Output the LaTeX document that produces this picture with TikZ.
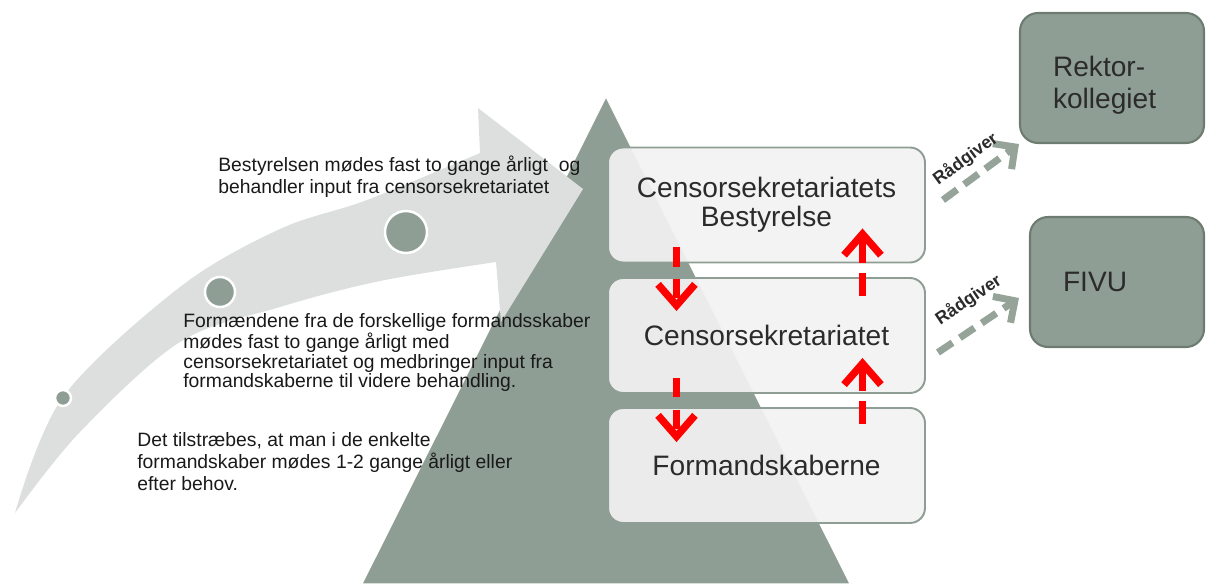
\documentclass[tikz,border=0pt]{standalone}
\usepackage{fontspec}
\setmainfont{Liberation Sans}
\usepackage{xcolor}
\usepackage{tikz}
\usetikzlibrary{arrows.meta,calc}

\definecolor{sage}{HTML}{8F9E94}
\definecolor{sagedark}{HTML}{6E7B71}
\definecolor{mist}{HTML}{DCDFDE}
\definecolor{paleface}{HTML}{F2F2F2}
\definecolor{inktext}{HTML}{2B2B2B}

\begin{document}
\begin{tikzpicture}[x=0.02cm,y=-0.02cm,
  stage/.style={draw=sage,line width=1.1pt,fill=paleface,fill opacity=0.92,text opacity=1,
    rounded corners=0.3cm,minimum width=6.34cm,minimum height=2.3cm,align=center,
    font=\fontsize{16}{16.5}\selectfont,text=inktext},
  council/.style={draw=sagedark,line width=1.2pt,fill=sage,rounded corners=0.36cm,
    minimum height=2.6cm,align=left,inner xsep=0.66cm,
    font=\fontsize{16}{18}\selectfont,text=inktext},
  note/.style={anchor=north west,inner sep=0pt,align=left,text=black!90},
  dot/.style={fill=sage,draw=white,line width=1.4pt},
  flowred/.style={draw=red,line width=4.2pt,dash pattern=on 11pt off 7pt,
    -{Straight Barb[length=12pt,width=21pt]}},
  advise/.style={draw=sage!95!white,line width=4pt,dash pattern=on 10pt off 5pt,
    -{Straight Barb[length=9pt,width=18pt]}},
  advlabel/.style={font=\fontsize{10}{10}\selectfont\bfseries,text=inktext,sloped,above=3pt,inner sep=1pt}]
\useasboundingbox (0,0) rectangle (1206,584);

% pyramid
\filldraw[fill=sage,draw=white,line width=0.6pt] (606,97) -- (850,584) -- (362,584) -- cycle;

% curved arrow
\fill[mist] plot[smooth,tension=0.55] coordinates {(15,513) (63,397) (180,287) (280,229) (367,200) (480,153)}
  -- (478,108) -- (583,189) -- (501,322) -- (496,262)
  -- plot[smooth,tension=0.55] coordinates {(496,262) (380,281) (280,307) (180,342) (80,432) (15,513)} -- cycle;
\filldraw[dot] (63,398) circle (8);
\filldraw[dot] (220,292) circle (15);
\filldraw[dot] (406,232) circle (21);

% notes
\node[note,font=\fontsize{11}{12}\selectfont] (noteboard) at (218,156)
  {Bestyrelsen mødes fast to gange årligt\ \ og\\behandler input fra censorsekretariatet};
\node[note,font=\fontsize{11}{11}\selectfont] (notechairs) at (183,313)
  {Formændene fra de forskellige formandsskaber\\mødes fast to gange årligt med\\censorsekretariatet og medbringer input fra\\formandskaberne til videre behandling.};
\node[note,font=\fontsize{11}{12.5}\selectfont] (notelocal) at (137,432)
  {Det tilstræbes, at man i de enkelte\\formandskaber mødes 1-2 gange årligt eller\\efter behov.};

% levels
\node[stage] (bestyr) at (766.5,205) {Censorsekretariatets\\Bestyrelse};
\node[stage] (secret) at (766.5,335.5) {Censorsekretariatet};
\node[stage] (chairs) at (766.5,465.5) {Formandskaberne};

\draw[flowred] ($(bestyr.south)+(-90,-16)$) -- ($(secret.north)+(-90,34)$);
\draw[flowred] ($(secret.south)+(-90,-16)$) -- ($(chairs.north)+(-90,35)$);
\draw[flowred,dash pattern=on 13pt off 6pt] ($(secret.north)+(96,19)$) -- ($(bestyr.south)+(96,-35)$);
\draw[flowred,dash pattern=on 13pt off 6pt] ($(chairs.north)+(96,17)$) -- ($(secret.south)+(96,-36)$);

% advisory bodies
\node[council,minimum width=3.68cm,text width=2.36cm] (rektor) at (1112,78) {\rule{0pt}{20pt}Rektor-\\kollegiet};
\node[council,minimum width=3.48cm,text width=2.16cm] (fivu) at (1117,282) {FIVU};

\draw[advise] ($(bestyr.east)+(17,-5)$) -- node[advlabel,pos=0.45] {Rådgiver} (rektor.south west);
\draw[advise] ($(secret.east)+(12,17)$) -- node[advlabel,pos=0.56,above=4pt] {Rådgiver} ($(fivu.west)+(-10,16)$);
\end{tikzpicture}
\end{document}
